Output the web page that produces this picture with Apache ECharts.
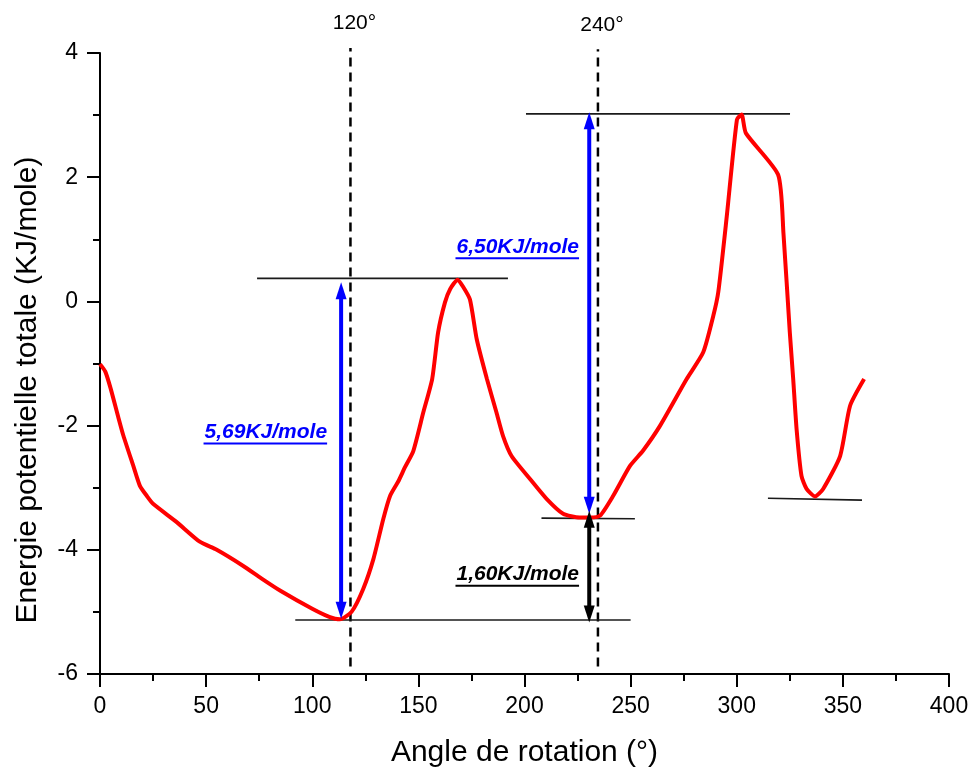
<!DOCTYPE html>
<html>
<head>
<meta charset="utf-8">
<script src="https://cdn.jsdelivr.net/npm/echarts@6/dist/echarts.min.js"></script>
<style>
  html, body { margin: 0; padding: 0; background: #fff; }
  #chart { width: 973px; height: 773px; }
</style>
</head>
<body>
<div id="chart"></div>
<script>
// Rotation angle (°) and total potential energy (KJ/mole)
const angles = [0, 2.5, 5, 8.5, 11, 15.7, 18.8, 22, 25, 36, 47, 55, 67.5, 76, 85, 100, 108, 113,
  118.5, 124, 128.8, 133.5, 136.7, 140.5, 143.7, 147.6, 152.3, 156.5, 159.3, 162.5, 165, 168.5,
  171, 174.3, 177.5, 182.3, 186.8, 189.9, 193.9, 202.6, 210.4, 218.2, 226, 231, 235.6, 241.8,
  249.7, 255.9, 263.9, 276.4, 284.2, 288.9, 291.3, 295.3, 300.1, 302.3, 304.3, 319.5, 322, 325,
  326.6, 328.2, 330.5, 332.9, 336.9, 340.7, 348.7, 353.4, 360];
const energies = [-1.01, -1.13, -1.4, -1.85, -2.16, -2.65, -2.97, -3.13, -3.26, -3.55, -3.87, -4.0, -4.26, -4.46, -4.66, -4.95, -5.08, -5.12,
  -5.0, -4.63, -4.15, -3.5, -3.13, -2.9, -2.67, -2.41, -1.79, -1.25, -0.5, -0.02, 0.2, 0.35,
  0.24, 0.03, -0.61, -1.25, -1.79, -2.17, -2.49, -2.86, -3.18, -3.42, -3.48, -3.48, -3.45, -3.13,
  -2.65, -2.4, -2.0, -1.25, -0.82, -0.24, 0.15, 1.37, 2.93, 3.01, 2.71, 2.04, 1.1, -0.5,
  -1.25, -2.06, -2.81, -3.02, -3.14, -3.02, -2.49, -1.68, -1.25];

// Axis ticks
const xTicks = [0, 50, 100, 150, 200, 250, 300, 350, 400];
const yTicks = [-6, -4, -2, 0, 2, 4];

// Dashed reference angles
const guideAngles = [118, 234.6];
const guideLabels = ['120°', '240°'];
const guideLow = [-5.88, -5.88];
const guideHigh = [4.08, 4.06];

// Energy levels (start angle, end angle, energy at start, energy at end)
const levelStart = [74, 200.7, 208, 92, 314.7];
const levelEnd = [192.2, 325.1, 252, 250, 359];
const levelStartE = [0.37, 3.02, -3.49, -5.13, -3.17];
const levelEndE = [0.37, 3.02, -3.5, -5.13, -3.2];

// Barrier arrows (angle, lower tip, upper tip)
const arrowAngles = [113.6, 230.5, 230.5];
const arrowLow = [-5.11, -3.42, -5.17];
const arrowHigh = [0.31, 3.045, -3.37];

// Barrier texts, anchored at their right end
const barrierLabels = ['5,69KJ/mole', '6,50KJ/mole', '1,60KJ/mole'];
const labelAngles = [107, 225.7, 225.7];
const labelEnergies = [-2.11, 0.873, -4.40];

const FONT = "Arial, 'Liberation Sans', sans-serif";
const BLUE = '#0000ff';
const arrowColors = [BLUE, BLUE, '#000000'];
const labelColors = [BLUE, BLUE, '#000000'];
const labelFont = 'italic bold 21px ' + FONT;

const measureCtx = document.createElement('canvas').getContext('2d');
measureCtx.font = labelFont;

const chart = echarts.init(document.getElementById('chart'), null, { renderer: 'canvas' });

const axisLineStyle = { color: '#000', width: 2 };

const option = {
  animation: false,
  backgroundColor: '#fff',
  grid: { left: 100, right: 24, top: 53, bottom: 98, containLabel: false },
  xAxis: {
    type: 'value',
    min: xTicks[0], max: xTicks[xTicks.length - 1], interval: xTicks[1] - xTicks[0],
    name: 'Angle de rotation (°)',
    nameLocation: 'middle',
    nameGap: 64,
    nameTextStyle: { fontFamily: FONT, fontSize: 30, color: '#000' },
    axisLine: { show: true, onZero: false, lineStyle: axisLineStyle },
    axisTick: { show: true, inside: false, length: 13, lineStyle: axisLineStyle },
    minorTick: { show: true, splitNumber: 2, length: 7, lineStyle: axisLineStyle },
    axisLabel: { fontFamily: FONT, fontSize: 23, color: '#000', margin: 21 },
    splitLine: { show: false }
  },
  yAxis: {
    type: 'value',
    min: yTicks[0], max: yTicks[yTicks.length - 1], interval: yTicks[1] - yTicks[0],
    axisLine: { show: true, onZero: false, lineStyle: axisLineStyle },
    axisTick: { show: true, inside: false, length: 13, lineStyle: axisLineStyle },
    minorTick: { show: true, splitNumber: 2, length: 7, lineStyle: axisLineStyle },
    axisLabel: { fontFamily: FONT, fontSize: 23, color: '#000', margin: 22 },
    splitLine: { show: false }
  },
  graphic: [{
    type: 'text',
    x: 28, y: 390,
    rotation: Math.PI / 2,
    style: {
      text: 'Energie potentielle totale (KJ/mole)',
      font: '30px ' + FONT,
      fill: '#000',
      align: 'center', verticalAlign: 'middle'
    }
  }],
  series: [
    {
      // dashed verticals at the reference angles
      type: 'custom',
      clip: false,
      z: 1,
      data: guideAngles.map((a, i) => [a, guideLow[i], guideHigh[i]]),
      encode: { x: 0, y: [1, 2] },
      renderItem: (params, api) => {
        const a = api.value(0);
        const p1 = api.coord([a, api.value(1)]);
        const p2 = api.coord([a, api.value(2)]);
        return {
          type: 'group',
          children: [
            { type: 'line', shape: { x1: p1[0], y1: p1[1], x2: p2[0], y2: p2[1] },
              style: { stroke: '#000', lineWidth: 2.5, lineDash: [9, 6] } },
            { type: 'text', x: p2[0] + 4, y: p2[1] - 14,
              style: { text: guideLabels[params.dataIndex], font: '21px ' + FONT, fill: '#000',
                       align: 'center', verticalAlign: 'bottom' } }
          ]
        };
      }
    },
    {
      // horizontal energy levels
      type: 'custom',
      clip: false,
      z: 2,
      data: levelStart.map((s, i) => [s, levelEnd[i], levelStartE[i], levelEndE[i]]),
      encode: { x: [0, 1], y: [2, 3] },
      renderItem: (params, api) => {
        const p1 = api.coord([api.value(0), api.value(2)]);
        const p2 = api.coord([api.value(1), api.value(3)]);
        return { type: 'line', shape: { x1: p1[0], y1: p1[1], x2: p2[0], y2: p2[1] },
                 style: { stroke: '#1a1a1a', lineWidth: 1.6 } };
      }
    },
    {
      type: 'line',
      z: 3,
      data: angles.map((a, i) => [a, energies[i]]),
      showSymbol: false,
      smooth: 0.2,
      lineStyle: { color: '#ff0000', width: 4 },
      itemStyle: { color: '#ff0000' }
    },
    {
      // double-headed barrier arrows
      type: 'custom',
      clip: false,
      z: 4,
      data: arrowAngles.map((a, i) => [a, arrowLow[i], arrowHigh[i]]),
      encode: { x: 0, y: [1, 2] },
      renderItem: (params, api) => {
        const a = api.value(0);
        const top = api.coord([a, api.value(2)]);
        const bot = api.coord([a, api.value(1)]);
        const color = arrowColors[params.dataIndex];
        const headL = 17, headW = 5.5;
        const ty = top[1], by = bot[1];
        return {
          type: 'group',
          children: [
            { type: 'line', shape: { x1: top[0], y1: ty + headL - 2, x2: bot[0], y2: by - headL + 2 },
              style: { stroke: color, lineWidth: 4 } },
            { type: 'polygon', shape: { points: [[top[0], ty], [top[0] - headW, ty + headL], [top[0] + headW, ty + headL]] },
              style: { fill: color } },
            { type: 'polygon', shape: { points: [[bot[0], by], [bot[0] - headW, by - headL], [bot[0] + headW, by - headL]] },
              style: { fill: color } }
          ]
        };
      }
    },
    {
      // underlined barrier values
      type: 'custom',
      clip: false,
      z: 5,
      data: labelAngles.map((a, i) => [a, labelEnergies[i]]),
      encode: { x: 0, y: 1 },
      renderItem: (params, api) => {
        const p = api.coord([api.value(0), api.value(1)]);
        const text = barrierLabels[params.dataIndex];
        const color = labelColors[params.dataIndex];
        const w = measureCtx.measureText(text).width;
        return {
          type: 'group',
          children: [
            { type: 'text', x: p[0], y: p[1],
              style: { text: text, font: labelFont, fill: color, align: 'right', verticalAlign: 'middle' } },
            { type: 'rect', shape: { x: p[0] - w - 1, y: p[1] + 10, width: w + 1, height: 2 },
              style: { fill: color } }
          ]
        };
      }
    }
  ]
};

chart.setOption(option);
</script>
</body>
</html>
